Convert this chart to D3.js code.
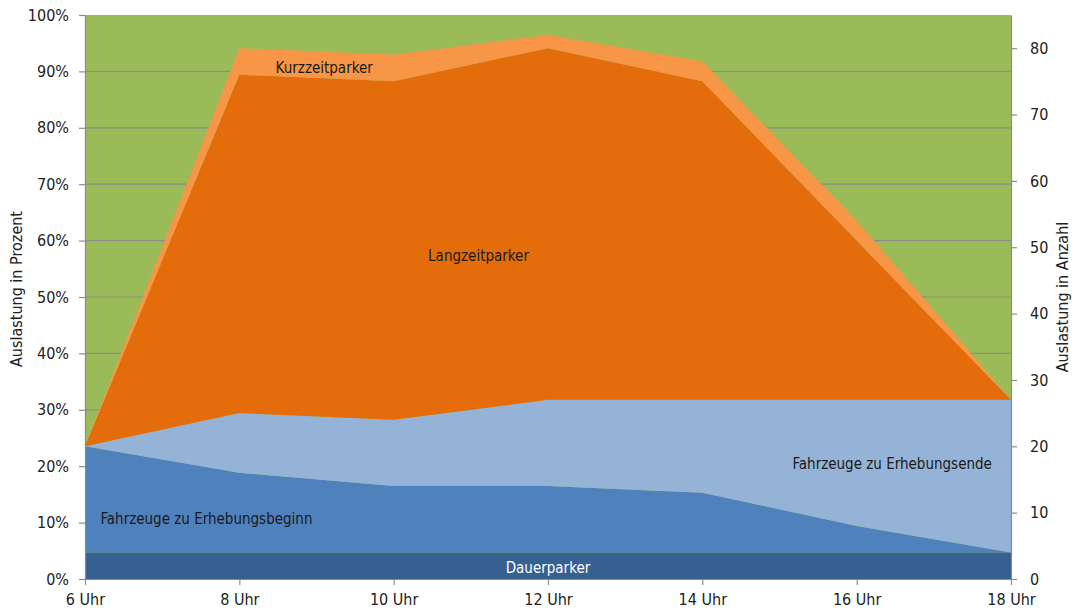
<!DOCTYPE html>
<html>
<head>
<meta charset="utf-8">
<script src="https://cdn.jsdelivr.net/npm/d3@7"></script>
<style>
  body { margin: 0; background: #fff; }
  svg text { font-family: "DejaVu Sans Condensed", "Liberation Sans Narrow", sans-serif; font-stretch: condensed; }
</style>
</head>
<body>
<svg id="chart" width="1082" height="614"></svg>
<script>
// Parking occupancy through the day, stacked by parker type.
// Values are vehicle counts; 85 spaces = 100 %.
const hours = ["6 Uhr", "8 Uhr", "10 Uhr", "12 Uhr", "14 Uhr", "16 Uhr", "18 Uhr"];
const capacity = 85;

const dauerparker = [4, 4, 4, 4, 4, 4, 4];
const erhebungsbeginn = [16, 12, 10, 10, 9, 4, 0];
const erhebungsende = [0, 9, 10, 13, 14, 19, 23];
const langzeitparker = [0, 51, 51, 53, 48, 24, 0];
const kurzzeitparker = [0, 4, 4, 2, 3, 3, 0];

const percentTicks = [0, 10, 20, 30, 40, 50, 60, 70, 80, 90, 100];
const countTicks = [0, 10, 20, 30, 40, 50, 60, 70, 80];

const keys = ["dauer", "beginn", "ende", "lang", "kurz"];
const colors = {
  dauer: "#36608f",
  beginn: "#4f81bd",
  ende: "#95b3d7",
  lang: "#e46c0a",
  kurz: "#f79646"
};

const rows = hours.map((h, i) => ({
  hour: h,
  dauer: dauerparker[i],
  beginn: erhebungsbeginn[i],
  ende: erhebungsende[i],
  lang: langzeitparker[i],
  kurz: kurzzeitparker[i]
}));

const margin = { left: 85, right: 71, top: 15, bottom: 35 };
const width = 1082, height = 614;
const svg = d3.select("#chart");

const x = d3.scalePoint().domain(hours).range([margin.left, width - margin.right]);
const yCount = d3.scaleLinear().domain([0, capacity]).range([height - margin.bottom, margin.top]);
const yPct = d3.scaleLinear().domain([0, 100]).range([height - margin.bottom, margin.top]);

// green plot background = free spaces
svg.append("rect")
  .attr("x", margin.left).attr("y", margin.top)
  .attr("width", width - margin.left - margin.right)
  .attr("height", height - margin.top - margin.bottom)
  .attr("fill", "#9bbb59");

// gridlines sit under the stacked areas
svg.append("g").selectAll("line")
  .data(percentTicks.slice(1, -1))
  .join("line")
  .attr("x1", margin.left).attr("x2", width - margin.right)
  .attr("y1", d => yPct(d)).attr("y2", d => yPct(d))
  .attr("stroke", "#8c8c8c").attr("stroke-width", 1.2);

const stack = d3.stack().keys(keys);
const series = stack(rows);

const area = d3.area()
  .x(d => x(d.data.hour))
  .y0(d => yCount(d[0]))
  .y1(d => yCount(d[1]));

svg.append("g").selectAll("path")
  .data(series)
  .join("path")
  .attr("d", area)
  .attr("fill", d => colors[d.key]);

// axes
const axisColor = "#8c8c8c";
const styleAxis = g => {
  g.selectAll(".domain").attr("stroke", axisColor).attr("stroke-width", 1.2);
  g.selectAll(".tick line").attr("stroke", axisColor).attr("stroke-width", 1.2);
  g.selectAll(".tick text").attr("fill", "#222").style("font-size", "16px");
};

svg.append("g")
  .attr("transform", `translate(${margin.left},0)`)
  .call(d3.axisLeft(yPct).tickValues(percentTicks).tickFormat(d => d + "%").tickSize(6).tickPadding(10).tickSizeOuter(0))
  .call(styleAxis);

svg.append("g")
  .attr("transform", `translate(${width - margin.right},0)`)
  .call(d3.axisRight(yCount).tickValues(countTicks).tickSize(6).tickPadding(13).tickSizeOuter(0))
  .call(styleAxis);

svg.append("g")
  .attr("transform", `translate(0,${height - margin.bottom})`)
  .call(d3.axisBottom(x).tickSize(6).tickPadding(9).tickSizeOuter(0))
  .call(styleAxis);

// axis titles
svg.append("text")
  .attr("transform", `translate(22,${(margin.top + height - margin.bottom) / 2 - 8}) rotate(-90)`)
  .attr("text-anchor", "middle")
  .attr("fill", "#222").style("font-size", "16px")
  .text("Auslastung in Prozent");

svg.append("text")
  .attr("transform", `translate(1068,${(margin.top + height - margin.bottom) / 2}) rotate(-90)`)
  .attr("text-anchor", "middle")
  .attr("fill", "#222").style("font-size", "16px")
  .text("Auslastung in Anzahl");

// series labels, anchored in data space
const labels = [
  { text: "Kurzzeitparker", hx: 1.55, v: 76.3, anchor: "middle", fill: "#1a1a1a" },
  { text: "Langzeitparker", hx: 2.55, v: 48, anchor: "middle", fill: "#1a1a1a" },
  { text: "Fahrzeuge zu Erhebungsende", hx: 5.23, v: 16.6, anchor: "middle", fill: "#1a1a1a" },
  { text: "Fahrzeuge zu Erhebungsbeginn", hx: 0.1, v: 8.3, anchor: "start", fill: "#1a1a1a" },
  { text: "Dauerparker", hx: 3, v: 0.9, anchor: "middle", fill: "#ffffff" }
];
const step = x.step();
svg.append("g").selectAll("text")
  .data(labels)
  .join("text")
  .attr("x", d => margin.left + d.hx * step)
  .attr("y", d => yCount(d.v))
  .attr("text-anchor", d => d.anchor)
  .attr("fill", d => d.fill)
  .style("font-size", "15px")
  .text(d => d.text);
</script>
</body>
</html>
